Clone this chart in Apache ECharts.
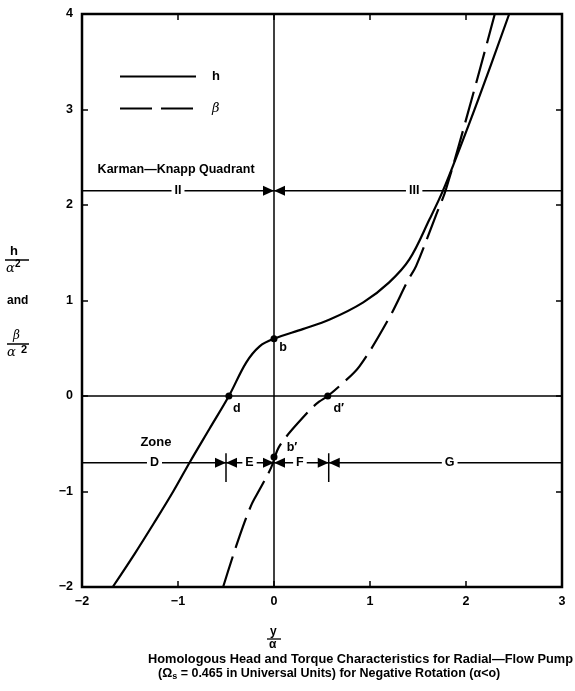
<!DOCTYPE html>
<html>
<head>
<meta charset="utf-8">
<script src="https://cdn.jsdelivr.net/npm/echarts@6/dist/echarts.min.js"></script>
<style>
  html, body { margin: 0; padding: 0; background: #fff; }
  #chart { width: 575px; height: 691px; }
</style>
</head>
<body>
<div id="chart"></div>
<script>
// Homologous head curve h/α² against y/α (solid)
const headX = [-1.68, -1.45, -1.25, -1.05, -0.87, -0.67, -0.47, -0.29, -0.15, 0.00, 0.30, 0.58, 0.93, 1.20, 1.41, 1.62, 1.76, 1.93, 2.13, 2.45];
const headY = [-2.00, -1.65, -1.33, -1.00, -0.68, -0.34, 0.00, 0.35, 0.52, 0.60, 0.70, 0.80, 0.98, 1.19, 1.43, 1.85, 2.15, 2.58, 3.11, 4.00];

// Homologous torque curve β/α² against y/α (dashed)
const torqueX = [-0.53, -0.38, -0.24, -0.15, -0.03, 0.06, 0.37, 0.47, 0.56, 0.70, 0.89, 1.19, 1.40, 1.48, 1.69, 1.79, 2.06, 2.30];
const torqueY = [-2.00, -1.53, -1.15, -0.98, -0.75, -0.52, -0.15, -0.06, 0.00, 0.12, 0.31, 0.80, 1.22, 1.36, 1.90, 2.16, 3.11, 4.00];

// Axis tick labels
const xTickLabels = ['−2', '−1', '0', '1', '2', '3'];
const yTickLabels = ['−2', '−1', '0', '1', '2', '3', '4'];

// Karman–Knapp quadrant band
const quadrantLineY = 2.15;
const quadrantBoundaryX = [0];
const quadrantNames = ['II', 'III'];
const quadrantNameX = [-1.0, 1.46];

// Operating zones
const zoneLineY = -0.7;
const zoneBoundaryX = [-0.5, 0, 0.57];
const zoneTickX = [-0.5, 0.57];
const zoneTickSpan = [-0.6, -0.9];
const zoneNames = ['D', 'E', 'F', 'G'];
const zoneNameX = [-1.245, -0.255, 0.27, 1.83];

// Marked points on the curves
const pointNames = ['b', 'd', 'd′', 'b′'];
const pointX = [0, -0.47, 0.56, 0];
const pointY = [0.60, 0, 0, -0.64];

// Free text annotations
const noteTexts = ['Karman—Knapp Quadrant', 'Zone'];
const noteX = [-1.02, -1.23];
const noteY = [2.37, -0.49];

const X_MIN = -2, X_MAX = 3, Y_MIN = -2, Y_MAX = 4;

const chart = echarts.init(document.getElementById('chart'), null, { renderer: 'canvas' });

const zip = (xs, ys) => xs.map((x, i) => [x, ys[i]]);
const boldFont = 'Liberation Sans, Arial, sans-serif';

function refLine(data) {
  return {
    type: 'line', data, symbol: 'none', silent: true, z: 2,
    lineStyle: { color: '#000', width: 1.5 }, animation: false
  };
}

const pointLabelOffsets = { 'b': [9, 9], 'd': [8, 13], 'd′': [11, 13], 'b′': [18, -10] };
const labelText = { color: '#000', opacity: 1, fontFamily: boldFont, fontWeight: 'bold', textBorderWidth: 0 };
const solidBlack = { color: '#000', opacity: 1 };
const invisible = { color: 'rgba(0,0,0,0)', opacity: 1 };

const series = [
  // reference lines inside the frame
  refLine([[0, Y_MIN], [0, Y_MAX]]),
  refLine([[X_MIN, 0], [X_MAX, 0]]),
  refLine([[X_MIN, quadrantLineY], [X_MAX, quadrantLineY]]),
  refLine([[X_MIN, zoneLineY], [X_MAX, zoneLineY]]),
  ...zoneTickX.map(x => refLine([[x, zoneTickSpan[0]], [x, zoneTickSpan[1]]])),
  {
    name: 'h', type: 'line', data: zip(headX, headY), symbol: 'none',
    smooth: 0.35, z: 3, animation: false,
    itemStyle: { color: '#000' },
    lineStyle: { color: '#000', width: 2.2 }
  },
  {
    name: 'β', type: 'line', data: zip(torqueX, torqueY), symbol: 'none',
    smooth: 0.35, z: 3, animation: false,
    itemStyle: { color: '#000' },
    lineStyle: { color: '#000', width: 2.2, type: [32, 9] }
  },
  // boundary arrows: right-pointing heads on the left of each boundary
  {
    type: 'scatter', z: 4, animation: false, silent: true,
    symbol: 'triangle', symbolSize: [10, 11], symbolRotate: -90, symbolOffset: [-5.5, 0],
    itemStyle: solidBlack,
    data: [
      ...zoneBoundaryX.map(x => [x, zoneLineY]),
      ...quadrantBoundaryX.map(x => [x, quadrantLineY])
    ]
  },
  // and left-pointing heads on the right
  {
    type: 'scatter', z: 4, animation: false, silent: true,
    symbol: 'triangle', symbolSize: [10, 11], symbolRotate: 90, symbolOffset: [5.5, 0],
    itemStyle: solidBlack,
    data: [
      ...zoneBoundaryX.map(x => [x, zoneLineY]),
      ...quadrantBoundaryX.map(x => [x, quadrantLineY])
    ]
  },
  // named points
  {
    type: 'scatter', z: 5, animation: false, silent: true,
    symbol: 'circle', symbolSize: 7, itemStyle: solidBlack,
    data: pointNames.map((n, i) => ({
      value: [pointX[i], pointY[i]], name: n,
      label: { show: true, position: 'inside', offset: pointLabelOffsets[n], formatter: n,
               ...labelText, fontSize: 12.5 }
    }))
  },
  // zone & quadrant names sitting on their lines
  {
    type: 'scatter', z: 6, animation: false, silent: true,
    symbolSize: 0, itemStyle: invisible,
    label: {
      show: true, position: 'inside', formatter: p => p.name,
      ...labelText, fontSize: 12.5,
      backgroundColor: '#fff', padding: [1, 3]
    },
    data: [
      ...zoneNames.map((n, i) => ({ name: n, value: [zoneNameX[i], zoneLineY] })),
      ...quadrantNames.map((n, i) => ({ name: n, value: [quadrantNameX[i], quadrantLineY] }))
    ]
  },
  // free annotations
  {
    type: 'scatter', z: 6, animation: false, silent: true,
    symbolSize: 0, itemStyle: invisible,
    label: {
      show: true, position: 'inside', formatter: p => p.name,
      ...labelText, fontSize: 12.5
    },
    data: noteTexts.map((n, i) => ({
      name: n, value: [noteX[i], noteY[i]],
      label: n === 'Zone' ? { fontSize: 13 } : undefined
    }))
  }
];

const tickStyle = { show: true, inside: true, length: 6, lineStyle: { color: '#000', width: 1.5 } };
const hiddenLine = { show: false, onZero: false };

const option = {
  animation: false,
  backgroundColor: '#fff',
  grid: { left: 82, right: 13, top: 14, bottom: 104, show: true, borderColor: '#000', borderWidth: 2.5, backgroundColor: 'transparent' },
  legend: {
    data: [{ name: 'h' }, { name: 'β' }],
    orient: 'vertical', left: 119, top: 70, padding: 0,
    itemWidth: 76, itemHeight: 14, itemGap: 19,
    selectedMode: false,
    itemStyle: { opacity: 0 },
    formatter: n => n === 'h' ? '{b|h}' : '{i|β}',
    textStyle: {
      padding: [0, 0, 0, 11],
      rich: {
        b: { fontFamily: boldFont, fontWeight: 'bold', fontSize: 13, color: '#000' },
        i: { fontFamily: 'DejaVu Serif, serif', fontStyle: 'italic', fontSize: 13, color: '#000' }
      }
    }
  },
  xAxis: [
    {
      type: 'value', min: X_MIN, max: X_MAX, interval: 1,
      axisLine: hiddenLine, splitLine: { show: false }, axisTick: tickStyle,
      axisLabel: {
        margin: 8, color: '#000', fontFamily: boldFont, fontWeight: 'bold', fontSize: 12.5,
        formatter: v => xTickLabels[Math.round(v - X_MIN)]
      }
    },
    {
      type: 'value', position: 'top', min: X_MIN, max: X_MAX, interval: 1,
      axisLine: hiddenLine, splitLine: { show: false }, axisTick: tickStyle,
      axisLabel: { show: false }
    }
  ],
  yAxis: [
    {
      type: 'value', min: Y_MIN, max: Y_MAX, interval: 1,
      axisLine: hiddenLine, splitLine: { show: false }, axisTick: tickStyle,
      axisLabel: {
        margin: 9, color: '#000', fontFamily: boldFont, fontWeight: 'bold', fontSize: 12.5,
        formatter: v => yTickLabels[Math.round(v - Y_MIN)]
      }
    },
    {
      type: 'value', position: 'right', min: Y_MIN, max: Y_MAX, interval: 1,
      axisLine: hiddenLine, splitLine: { show: false }, axisTick: tickStyle,
      axisLabel: { show: false }
    }
  ],
  graphic: [
    // vertical axis title: h/α² and β/α²
    { type: 'text', left: 10, top: 245, style: { text: 'h', font: 'bold 13px ' + boldFont, fill: '#000' } },
    { type: 'line', shape: { x1: 5, y1: 260, x2: 29, y2: 260 }, style: { stroke: '#000', lineWidth: 1.5 } },
    { type: 'text', left: 6, top: 262, style: { text: 'α', font: 'italic 13px DejaVu Serif, serif', fill: '#000' } },
    { type: 'text', left: 15, top: 259, style: { text: '2', font: 'bold 10px ' + boldFont, fill: '#000' } },
    { type: 'text', left: 7, top: 295, style: { text: 'and', font: 'bold 12px ' + boldFont, fill: '#000' } },
    { type: 'text', left: 13, top: 330, style: { text: 'β', font: 'italic 12px DejaVu Serif, serif', fill: '#000' } },
    { type: 'line', shape: { x1: 7, y1: 344, x2: 29, y2: 344 }, style: { stroke: '#000', lineWidth: 1.5 } },
    { type: 'text', left: 7, top: 346, style: { text: 'α', font: 'italic 13px DejaVu Serif, serif', fill: '#000' } },
    { type: 'text', left: 21, top: 344, style: { text: '2', font: 'bold 11px ' + boldFont, fill: '#000' } },
    // horizontal axis title: y/α
    { type: 'text', left: 270, top: 626, style: { text: 'y', font: 'bold 12px ' + boldFont, fill: '#000' } },
    { type: 'line', shape: { x1: 267, y1: 639, x2: 281, y2: 639 }, style: { stroke: '#000', lineWidth: 1.3 } },
    { type: 'text', left: 269, top: 639, style: { text: 'α', font: 'bold 12px ' + boldFont, fill: '#000' } },
    // caption
    {
      type: 'text', left: 148, top: 653,
      style: {
        text: 'Homologous Head and Torque Characteristics for Radial—Flow Pump',
        font: 'bold 12.8px ' + boldFont, fill: '#000'
      }
    },
    {
      type: 'text', left: 158, top: 667,
      style: {
        text: '(Ω{s|s} = 0.465 in Universal Units) for Negative Rotation (α<o)',
        font: 'bold 12.5px ' + boldFont, fill: '#000',
        rich: { s: { font: 'bold 9px ' + boldFont, fill: '#000', padding: [6, 0, 0, 0] } }
      }
    }
  ],
  series
};

chart.setOption(option);
</script>
</body>
</html>
